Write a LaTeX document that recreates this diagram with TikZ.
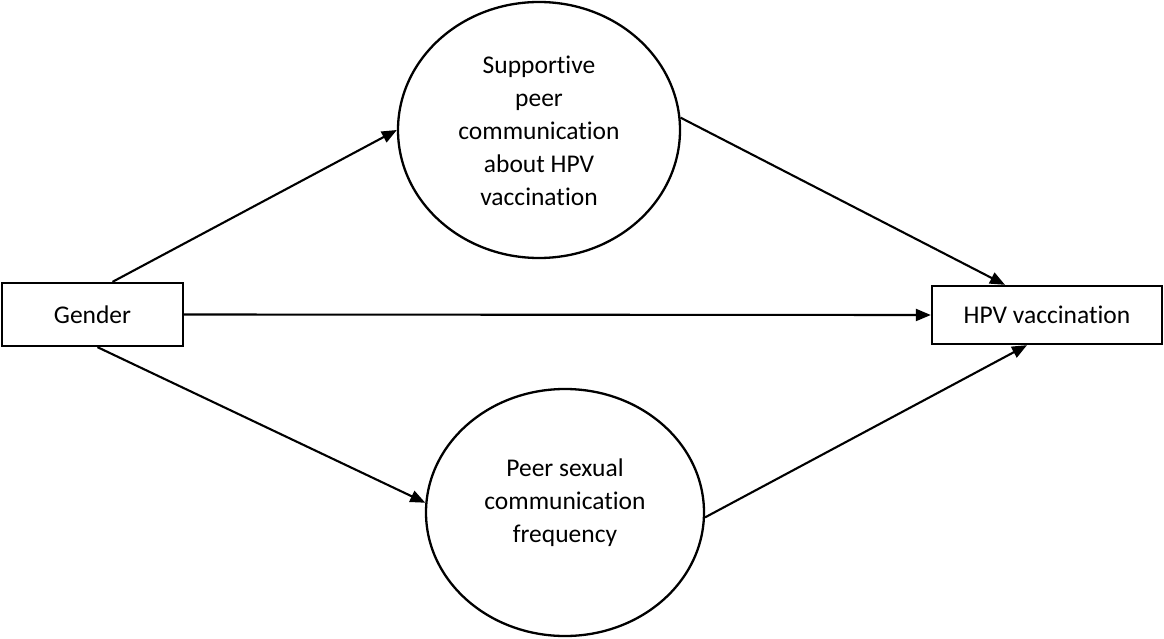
\documentclass[tikz,border=0pt]{standalone}
\usepackage{fontspec}
\setmainfont{Carlito}[Ligatures=NoCommon]
\usetikzlibrary{shapes.geometric,arrows.meta,calc}

\tikzset{
  box/.style={draw, line width=2.3pt, inner sep=0pt},
  oval/.style={draw, ellipse, line width=2.3pt, inner sep=0pt},
  txt/.style={align=center, inner sep=0pt, font=\fontsize{25.5pt}{33pt}\selectfont},
  path/.style={line width=2.1pt, -{Triangle[length=15pt,width=12pt]}}
}

\begin{document}
\begin{tikzpicture}[x=1pt, y=-1pt]
  \useasboundingbox (0,0) rectangle (1164,639);

  % predictor and outcome boxes
  \node[box, minimum width=181pt, minimum height=63pt, txt] (gender) at (92.5,314.5) {Gender};
  \node[box, minimum width=230pt, minimum height=58pt, txt] (hpv) at (1047,315) {HPV vaccination};

  % mediators
  \node[oval, minimum width=282pt, minimum height=256pt] (supp) at (539,130) {};
  \node[txt] (supptext) at (539,131) {Supportive\\peer\\communication\\about HPV\\vaccination};

  \node[oval, minimum width=278pt, minimum height=247pt] (freq) at (565,512.5) {};
  \node[txt] (freqtext) at (565,503) {Peer sexual\\communication\\frequency};

  % paths
  \draw[path] ([xshift=20pt]gender.north) -- (supp.west);
  \draw[path] ([xshift=5pt]gender.south) -- (freq.176);
  \draw[path] (gender.east) -- (hpv.west);
  \draw[path] (supp.5) -- ([xshift=-42pt]hpv.north);
  \draw[path] (freq.-2) -- ([xshift=-20pt]hpv.south);
\end{tikzpicture}
\end{document}
